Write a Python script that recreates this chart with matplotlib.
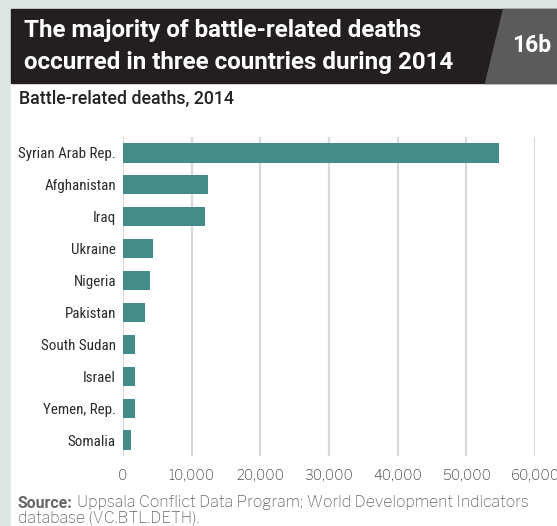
import matplotlib.pyplot as plt
from matplotlib.patches import Rectangle, Polygon

# data
countries = ['Syrian Arab Rep.', 'Afghanistan', 'Iraq', 'Ukraine', 'Nigeria',
             'Pakistan', 'South Sudan', 'Israel', 'Yemen, Rep.', 'Somalia']
deaths = [54700, 12400, 11900, 4350, 3900, 3200, 1700, 1700, 1700, 1100]
xticks = [0, 10000, 20000, 30000, 40000, 50000, 60000]

bar_color = '#438c87'
bg = '#dde6e3'
W, H = 557, 526

title_font = ['Roboto', 'DejaVu Sans']
narrow_font = ['Roboto Condensed', 'Archivo Narrow', 'DejaVu Sans']
body_font = ['Libre Franklin', 'Liberation Sans', 'DejaVu Sans']
plt.rcParams['font.family'] = narrow_font

fig = plt.figure(figsize=(W / 100, H / 100), dpi=100)
fig.patch.set_facecolor(bg)


def px(x, y):
    # figure fraction from pixel coords (origin top-left)
    return x / W, 1 - y / H


# white panel, black title band, grey number box
fig.patches.append(Rectangle(px(11, H), (W - 11) / W, (H - 83) / H,
                             transform=fig.transFigure, color='white', zorder=-3))
fig.patches.append(Rectangle(px(11, 83), (W - 11) / W, 74 / H,
                             transform=fig.transFigure, color='#231f20', zorder=-2))
fig.patches.append(Polygon([px(503, 9), px(W, 9), px(W, 83), px(485, 83)],
                           closed=True, transform=fig.transFigure,
                           color='#5b5b5b', zorder=-1))

fig.text(*px(24, 30), 'The majority of battle-related deaths', color='white',
         fontsize=17.4, fontweight='bold', va='center', ha='left', family=title_font)
fig.text(*px(24, 62), 'occurred in three countries during 2014', color='white',
         fontsize=17.4, fontweight='bold', va='center', ha='left', family=title_font)
fig.text(*px(551, 46), '16b', color='white', fontsize=16.5, fontweight='bold',
         va='center', ha='right', family=title_font)
fig.text(*px(19, 99), 'Battle-related deaths, 2014', color='#222222',
         fontsize=12.8, fontweight='medium', va='center', ha='left',
         family=title_font)

ax = fig.add_axes([123 / W, 1 - 456 / H, (535 - 123) / W, (456 - 137) / H])
ax.set_facecolor('none')
ypos = list(range(len(countries)))
ax.barh(ypos, deaths, height=0.6, color=bar_color, zorder=3)
ax.set_xlim(0, 60000)
ax.set_ylim(9.5, -0.5)
ax.set_yticks(ypos)
ax.set_yticklabels(countries, fontsize=10.8, color='#2b2b2b')
ax.set_xticks(xticks)
ax.set_xticklabels([f'{v:,}' for v in xticks], fontsize=10, color='#333333',
                   family=body_font)
ax.tick_params(length=0, pad=5)
ax.tick_params(axis='x', pad=9)
ax.grid(axis='x', color='#d9d9d9', linewidth=1.6, zorder=0)
for s in ax.spines.values():
    s.set_visible(False)

t = fig.text(*px(18, 503), 'Source:', color='#666666', fontsize=11.4,
             fontweight='bold', va='center', ha='left', family=title_font)
fig.canvas.draw()
bb = t.get_window_extent()
fig.text((bb.x1 + 4) / W, 1 - 503 / H,
         'Uppsala Conflict Data Program; World Development Indicators',
         color='#666666', fontsize=11.4, va='center', ha='left', family=body_font)
fig.text(*px(18, 518), 'database (VC.BTL.DETH).', color='#666666', fontsize=11.4,
         va='center', ha='left', family=body_font)

fig.savefig('out.png', dpi=100, facecolor=fig.get_facecolor())
